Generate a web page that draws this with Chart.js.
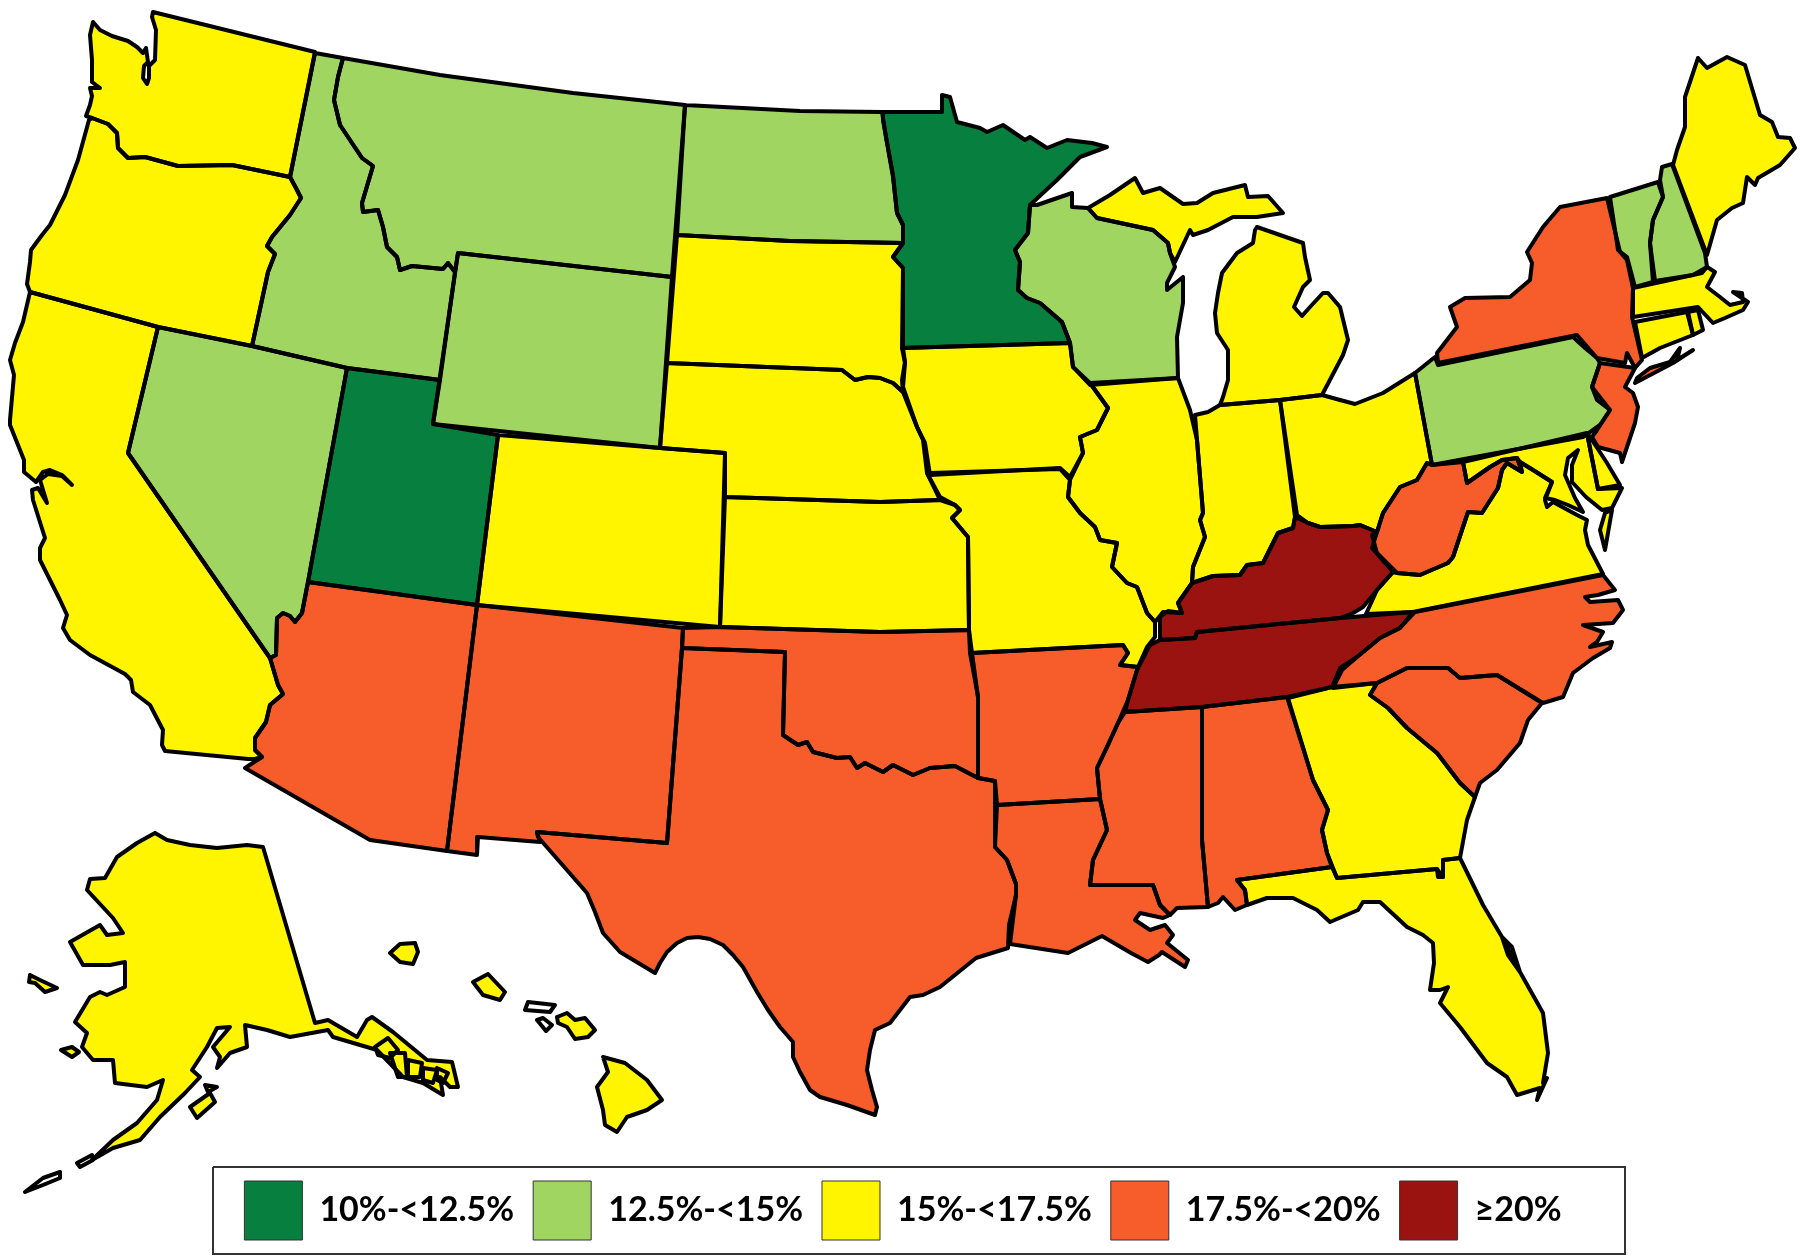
<!DOCTYPE html>
<html>
<head>
<meta charset="utf-8">
<title>US state map</title>
<script src="https://cdn.jsdelivr.net/npm/chart.js@4/dist/chart.umd.js"></script>
<style>
  html, body { margin: 0; padding: 0; background: #fff; }
  canvas { display: block; }
</style>
</head>
<body>
<canvas id="map" width="1800" height="1259"></canvas>
<script>
// legend classes
const legendLabels = ['10%-<12.5%', '12.5%-<15%', '15%-<17.5%', '17.5%-<20%', '≥20%'];
const legendColors = ['#067F3F', '#A0D561', '#FFF500', '#F65D2B', '#9B1310'];

const washington = [93,22,100,30,112,36,128,41,137,47,143,53,146,48,148,62,144,66,143,78,147,84,149,78,149,66,155,60,156,30,152,17,153,12,315,52,290,177,232,165,178,166,145,157,128,158,118,148,117,133,108,124,92,118,86,116,90,105,92,96,90,88,100,88,92,82,92,60,90,35];
const oregon = [89,120,92,118,108,124,117,133,118,148,128,158,145,157,178,166,232,165,290,177,297,190,301,198,290,215,272,237,267,246,275,254,268,272,252,346,158,327,30,292,27,284,30,262,31,250,42,235,50,225,65,195,78,160];
const california = [30,292,158,327,128,453,270,658,278,685,283,694,270,705,266,722,255,738,255,750,262,757,255,759,248,759,165,751,162,745,163,730,150,705,133,692,131,680,125,674,90,655,70,640,63,628,67,615,60,600,40,560,40,548,45,538,33,500,32,490,38,488,47,503,40,480,48,474,62,476,72,485,62,475,50,470,43,472,36,482,24,472,24,460,10,425,10,420,14,375,10,360,15,343,23,322];
const nevada = [158,327,252,346,347,368,308,582,302,613,295,622,290,616,283,613,277,618,276,655,270,658,128,453];
const idaho = [315,53,343,58,338,77,334,100,340,125,350,140,362,158,373,166,362,203,363,212,378,210,383,227,387,247,397,257,400,270,412,266,443,269,448,263,455,272,440,380,347,368,252,346,268,272,275,254,267,246,272,237,290,215,301,198,297,190,290,177];
const montana = [343,58,440,75,573,93,685,105,672,277,458,253,455,272,448,263,443,269,412,266,400,270,397,257,387,247,383,227,378,210,363,212,362,203,373,166,362,158,350,140,340,125,334,100,338,77];
const wyoming = [458,253,672,277,660,448,433,424];
const utah = [347,368,440,380,433,424,498,435,477,605,308,582];
const colorado = [498,435,660,448,725,453,720,627,477,605];
const arizona = [308,582,477,605,447,851,370,840,245,768,262,757,255,750,255,738,266,722,270,705,283,694,278,685,270,658,276,655,277,618,283,613,290,616,295,622,302,613];
const newMexico = [477,605,683,628,682,648,667,843,537,832,540,842,478,837,477,855,447,851];
const northDakota = [685,105,800,111,882,112,886,137,893,175,897,213,903,225,903,243,790,241,677,235];
const southDakota = [677,235,790,241,903,243,893,257,903,268,903,348,905,362,902,380,903,392,893,383,880,378,868,377,855,380,842,370,667,363];
const nebraska = [667,363,842,370,855,380,868,377,880,378,893,383,903,392,917,427,923,440,927,473,940,500,880,502,725,497,725,453,660,448];
const kansas = [725,497,880,502,940,500,955,505,960,510,952,518,968,537,969,630,880,632,720,627];
const oklahoma = [683,628,720,627,880,632,969,630,970,653,978,697,978,778,955,766,930,768,913,775,893,765,883,772,865,763,857,768,850,757,837,758,813,752,807,742,798,745,783,735,785,652,682,648];
const texas = [682,648,785,652,783,735,798,745,807,742,813,752,837,758,850,757,857,768,865,763,883,772,893,765,913,775,930,768,955,766,978,778,995,781,995,847,1007,860,1016,884,1016,895,1009,925,1008,948,976,958,940,987,923,995,910,997,890,1023,875,1030,870,1050,867,1070,872,1090,877,1107,875,1115,847,1105,820,1097,810,1090,800,1072,793,1057,793,1042,780,1027,768,1010,757,992,743,967,733,955,723,945,710,939,698,937,687,938,677,943,667,952,660,963,655,973,620,952,603,933,595,912,587,893,538,837,537,832,667,843];
const minnesota = [883,112,942,112,942,95,950,97,957,122,980,128,987,132,1003,125,1025,140,1030,137,1047,148,1067,140,1092,143,1107,147,1080,157,1057,180,1030,205,1028,233,1015,250,1020,262,1018,290,1027,298,1040,303,1062,322,1070,343,902,348,903,268,893,257,903,243,903,225,897,213,893,177,883,120];
const iowa = [902,348,1070,343,1073,367,1090,383,1108,408,1097,430,1080,437,1083,453,1070,477,1060,468,930,475,925,443,917,427,903,387,905,363];
const missouri = [930,473,1060,469,1070,480,1068,497,1080,513,1095,527,1100,540,1117,543,1112,567,1127,583,1137,587,1147,613,1155,622,1155,637,1147,647,1138,667,1120,665,1128,653,1123,645,972,653,969,630,968,537,952,518,960,510,955,505,940,497,927,473];
const arkansas = [972,653,1123,645,1128,653,1120,665,1138,667,1128,700,1118,723,1107,747,1097,768,1100,799,997,805,995,781,978,778,978,697];
const louisiana = [997,805,1100,799,1107,830,1093,860,1090,885,1153,885,1160,905,1170,915,1163,918,1140,913,1135,920,1150,930,1165,925,1173,935,1167,943,1188,960,1185,967,1162,952,1159,955,1148,962,1131,953,1102,936,1068,953,1010,944,1016,895,1016,884,1007,860,995,847];
const wisconsin = [1037,205,1072,193,1072,207,1088,208,1097,218,1153,230,1168,243,1170,253,1175,267,1167,283,1167,290,1183,277,1183,303,1177,337,1178,378,1090,385,1073,367,1070,343,1062,322,1040,303,1027,298,1018,290,1020,262,1015,250,1028,233,1030,205];
const michiganUpper = [1088,208,1110,195,1135,178,1143,193,1160,188,1183,204,1197,203,1213,193,1245,185,1248,197,1268,196,1283,213,1257,217,1233,217,1208,230,1193,235,1190,230,1175,262,1170,253,1168,243,1153,230,1097,218];
const michiganLower = [1257,227,1303,243,1305,257,1310,280,1303,287,1294,307,1302,316,1310,307,1323,293,1328,293,1340,307,1348,340,1343,355,1322,395,1280,400,1220,405,1223,397,1228,380,1228,350,1217,333,1215,313,1218,293,1222,273,1237,253,1253,243,1255,230];
const illinois = [1090,383,1178,378,1190,410,1197,440,1203,513,1200,520,1205,537,1193,567,1192,583,1178,603,1182,613,1163,612,1155,622,1147,613,1137,587,1127,583,1112,567,1117,543,1100,540,1095,527,1080,513,1068,497,1070,480,1083,453,1080,437,1097,430,1108,408];
const indiana = [1195,415,1208,412,1220,405,1280,400,1295,517,1293,528,1278,533,1263,563,1247,565,1240,575,1213,576,1192,583,1193,567,1205,537,1200,520,1203,513,1197,440];
const ohio = [1280,400,1322,395,1340,400,1355,404,1383,393,1415,373,1432,465,1427,463,1417,480,1400,487,1383,513,1377,532,1360,525,1353,526,1320,527,1308,523,1297,515];
const kentucky = [1295,517,1308,523,1320,527,1353,526,1360,525,1377,532,1372,548,1393,572,1377,590,1363,607,1353,613,1340,618,1197,632,1195,638,1160,640,1160,617,1168,611,1182,613,1178,603,1192,583,1213,576,1240,575,1247,565,1263,563,1278,533,1293,528];
const tennessee = [1150,645,1160,640,1195,638,1197,632,1340,618,1413,612,1400,628,1380,638,1357,657,1340,668,1332,687,1287,697,1202,707,1125,712,1128,700,1137,670];
const mississippi = [1125,712,1202,707,1202,840,1208,907,1177,908,1170,915,1160,905,1153,885,1090,885,1093,860,1107,830,1100,799,1097,768,1107,747,1118,723];
const alabama = [1202,707,1287,697,1313,780,1328,810,1322,830,1327,853,1332,867,1237,880,1245,890,1247,905,1235,910,1223,897,1218,903,1208,907,1202,840];
const georgia = [1288,698,1332,687,1377,683,1370,695,1388,708,1407,728,1437,753,1460,783,1475,797,1467,820,1460,858,1443,860,1443,877,1437,869,1337,878,1327,853,1322,830,1328,810,1313,780];
const florida = [1237,880,1332,867,1337,878,1437,869,1438,877,1443,877,1443,860,1460,858,1483,905,1502,937,1508,955,1520,972,1512,947,1502,937,1520,972,1543,1013,1548,1053,1543,1083,1547,1078,1537,1100,1540,1088,1517,1095,1507,1077,1487,1063,1460,1027,1440,1003,1448,987,1440,990,1430,990,1434,963,1433,943,1423,935,1407,927,1380,902,1363,902,1358,910,1330,922,1317,910,1293,898,1267,898,1247,905,1245,890];
const southCarolina = [1377,683,1407,668,1448,668,1460,678,1497,675,1542,703,1528,720,1520,743,1497,770,1480,783,1475,797,1460,783,1437,753,1407,728,1388,708,1370,695];
const northCarolina = [1415,612,1603,575,1615,590,1598,595,1585,597,1590,602,1618,600,1623,610,1613,623,1583,625,1603,632,1597,642,1590,647,1612,642,1610,648,1593,658,1573,673,1563,697,1543,703,1497,675,1460,678,1448,668,1407,668,1377,683,1333,688,1342,670,1357,657,1380,638,1400,628];
const virginia = [1366,614,1413,612,1603,574,1588,545,1585,530,1587,520,1577,515,1553,502,1547,507,1545,500,1552,482,1533,470,1520,462,1522,472,1507,463,1502,470,1498,488,1482,513,1468,512,1453,557,1448,563,1420,575,1397,573,1393,572,1377,590];
const virginiaShore = [1605,513,1612,510,1605,550,1600,530];
const westVirginia = [1432,465,1463,462,1467,483,1490,467,1502,460,1517,458,1522,472,1507,463,1502,470,1498,488,1482,513,1468,512,1453,557,1448,563,1420,575,1397,573,1377,553,1372,535,1377,532,1383,513,1400,487,1417,480,1427,463];
const maryland = [1463,462,1587,433,1598,489,1622,488,1612,508,1602,510,1586,497,1572,482,1572,465,1578,450,1568,458,1565,475,1575,498,1583,512,1568,505,1555,500,1545,498,1552,482,1533,470,1520,462,1517,458,1502,460,1490,467,1467,483];
const delaware = [1587,433,1592,440,1607,463,1620,485,1598,489];
const pennsylvania = [1415,373,1435,357,1438,365,1573,337,1585,348,1597,358,1600,363,1592,387,1597,400,1610,410,1600,425,1593,430,1583,437,1432,465];
const newYork = [1438,363,1437,353,1457,327,1450,307,1465,298,1510,297,1530,280,1532,263,1527,252,1543,227,1560,207,1607,198,1620,252,1627,260,1633,288,1632,317,1642,360,1635,368,1627,353,1625,363,1597,358,1577,335];
const longIsland = [1635,383,1673,363,1693,350,1677,360,1680,348,1670,362,1650,368,1637,378];
const newJersey = [1600,363,1635,368,1625,387,1633,393,1638,407,1635,423,1622,462,1620,453,1598,447,1592,437,1597,430,1610,410,1592,387];
const connecticut = [1635,322,1687,312,1693,335,1660,348,1642,358];
const rhodeIsland = [1688,312,1698,310,1703,330,1693,335];
const massachusetts = [1633,288,1702,273,1707,267,1715,272,1707,287,1720,297,1730,305,1743,302,1742,293,1733,292,1748,302,1743,310,1725,318,1713,323,1698,307,1633,317];
const vermont = [1610,197,1658,182,1663,197,1653,220,1650,243,1653,282,1635,287,1627,257,1618,250];
const newHampshire = [1662,167,1672,164,1705,253,1707,267,1693,275,1655,281,1650,243,1653,220,1663,197,1660,180];
const maine = [1673,165,1677,150,1685,127,1685,97,1698,58,1707,68,1727,57,1745,65,1760,115,1772,122,1778,137,1790,138,1795,148,1780,165,1758,178,1755,185,1747,177,1743,203,1732,208,1717,220,1707,255];
const alaska = [155,833,167,840,190,845,217,848,247,845,263,847,315,1023,328,1020,357,1037,367,1020,372,1017,393,1032,427,1060,452,1062,458,1087,450,1087,440,1077,443,1095,423,1083,403,1077,377,1050,333,1037,328,1030,290,1037,267,1030,245,1025,247,1047,230,1053,217,1068,220,1057,213,1047,230,1027,217,1028,207,1047,192,1070,200,1077,185,1093,160,1117,140,1140,113,1148,92,1160,113,1140,137,1123,157,1100,163,1080,147,1087,115,1083,113,1060,93,1060,82,1047,87,1033,75,1022,90,997,100,992,107,995,125,987,125,962,110,965,83,965,70,942,100,925,107,935,123,933,113,918,87,890,90,879,105,878,117,857,137,843];
const nunivak = [61,1050,72,1047,79,1052,72,1057];
const stLawrence = [30,975,40,980,57,988,45,992,35,983,29,982];
const kodiak = [190,1107,210,1093,215,1102,197,1118];
const afognak = [205,1085,217,1087,208,1092];
const unimak = [77,1163,92,1155,93,1160,80,1167];
const attu = [25,1192,43,1178,60,1172,60,1178,43,1185];
const panhandleA = [375,1047,388,1038,398,1050,390,1058,378,1055];
const panhandleB = [390,1053,405,1053,407,1077,398,1077];
const panhandleC = [408,1060,422,1063,420,1077,408,1077];
const panhandleD = [423,1068,437,1070,433,1083,423,1080];
const panhandleE = [437,1068,448,1073,443,1083,437,1080];
const niihau = [390,953,400,944,415,943,418,952,413,964,400,962];
const oahu = [473,982,488,974,505,992,500,1000,483,995];
const maui = [557,1017,567,1013,575,1020,585,1018,595,1030,588,1037,575,1039,567,1027,558,1023];
const bigIsland = [603,1057,625,1063,647,1080,662,1100,647,1110,627,1117,617,1132,605,1125,603,1110,597,1087,608,1072];
const molokai = [525,1010,528,1002,555,1005,550,1012];
const lanai = [537,1020,543,1018,552,1025,546,1031];
const legendFrame = [213,1167,1625,1167,1625,1254,213,1254];

// outline + legend class of every filled shape
const bandOutlines = [
  [minnesota, utah],
  [idaho, montana, wyoming, nevada, northDakota, wisconsin, pennsylvania, vermont, newHampshire],
  [washington, oregon, california, colorado, southDakota, nebraska, kansas, iowa, missouri, michiganUpper, michiganLower, illinois, indiana, ohio, georgia, florida, virginia, virginiaShore, maryland, delaware, connecticut, rhodeIsland, massachusetts, maine, alaska, nunivak, stLawrence, kodiak, afognak, panhandleA, panhandleB, panhandleC, panhandleD, panhandleE, niihau, oahu, maui, bigIsland],
  [arizona, newMexico, oklahoma, texas, arkansas, louisiana, mississippi, alabama, southCarolina, northCarolina, westVirginia, newYork, longIsland, newJersey],
  [kentucky, tennessee]
];
// small islands drawn without a colour in the picture
const blankOutlines = [molokai, lanai, unimak, attu];

function toPoints(flat) {
  const pts = [];
  for (let i = 0; i < flat.length; i += 2) {
    pts.push({x: flat[i], y: flat[i + 1]});
  }
  pts.push({x: flat[0], y: flat[1]});   // close the ring
  return pts;
}

function shape(flat, color) {
  return {
    data: toPoints(flat),
    showLine: true,
    fill: 'shape',
    backgroundColor: color,
    borderColor: '#000',
    borderWidth: 4,
    borderJoinStyle: 'round',
    borderCapStyle: 'round',
    pointRadius: 0,
    tension: 0,
    clip: false
  };
}

const datasets = [];
bandOutlines.forEach((group, band) => {
  group.forEach(flat => datasets.push(shape(flat, legendColors[band])));
});
blankOutlines.forEach(flat => datasets.push(shape(flat, '#fff')));
datasets.push({
  data: toPoints(legendFrame),
  showLine: true,
  fill: false,
  borderColor: '#333',
  borderWidth: 2,
  pointRadius: 0,
  clip: false
});

const ctx = document.getElementById('map');
new Chart(ctx, {
  type: 'scatter',
  data: {datasets: datasets},
  options: {
    responsive: false,
    animation: false,
    events: [],
    layout: {padding: {left: 6, bottom: 9}},
    scales: {
      x: {type: 'linear', display: false, min: 6, max: 1800},
      y: {type: 'linear', display: false, min: 0, max: 1162, reverse: true}
    },
    plugins: {
      filler: {drawTime: 'beforeDatasetsDraw'},
      tooltip: {enabled: false},
      legend: {
        position: 'bottom',
        onClick: null,
        labels: {
          boxWidth: 58,
          boxHeight: 59,
          padding: 19,
          color: '#000',
          font: {family: 'Lato', size: 34, weight: 'bold'},
          generateLabels: () => legendLabels.map((text, i) => ({
            text: text,
            fillStyle: legendColors[i],
            strokeStyle: '#333',
            lineWidth: 1,
            hidden: false
          }))
        }
      }
    }
  }
});
</script>
</body>
</html>
